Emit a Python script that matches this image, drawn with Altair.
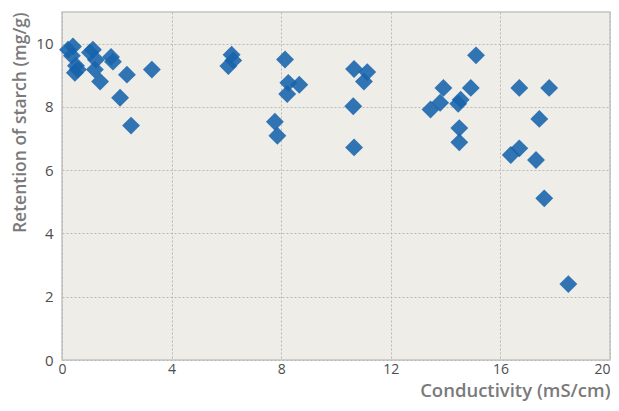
import altair as alt
import pandas as pd

conductivity = [
    0.22, 0.40, 0.36, 0.51, 0.47, 0.58, 1.02, 1.13, 1.24, 1.20, 1.39, 1.79, 1.86, 2.12, 2.37, 2.52, 3.28,
    6.19, 6.07, 6.25, 8.14, 8.26, 8.66, 8.22, 7.77, 7.86, 10.66, 11.14, 11.02, 10.63, 10.66,
    15.11, 13.92, 14.92, 13.80, 13.45, 14.55, 14.46, 14.50, 14.50, 16.69, 17.78, 17.42, 16.69, 16.38, 17.30, 17.60, 18.48,
]
starch = [
    9.81, 9.91, 9.62, 9.30, 9.08, 9.18, 9.72, 9.81, 9.49, 9.18, 8.80, 9.58, 9.43, 8.29, 9.02, 7.41, 9.18,
    9.65, 9.29, 9.47, 9.50, 8.76, 8.70, 8.41, 7.53, 7.09, 9.20, 9.10, 8.80, 8.02, 6.72,
    9.63, 8.60, 8.60, 8.13, 7.92, 8.23, 8.10, 7.33, 6.88, 8.60, 8.60, 7.62, 6.69, 6.48, 6.32, 5.11, 2.40,
]

x_ticks = [0, 4, 8, 12, 16, 20]
y_ticks = [0, 2, 4, 6, 8, 10]

df = pd.DataFrame({"conductivity": conductivity, "starch": starch})

title_font = "Open Sans"
title_color = "#7a7a7a"
label_color = "#4d4d4d"

chart = (
    alt.Chart(df)
    .mark_point(shape="diamond", filled=True, size=320, color="#1763ab", opacity=0.88)
    .encode(
        x=alt.X(
            "conductivity:Q",
            scale=alt.Scale(domain=[0, 20], nice=False, zero=True),
            axis=alt.Axis(
                values=x_ticks,
                title="Conductivity (mS/cm)",
                titleX=548,
                titleY=36,
                titleAlign="right",
                titleBaseline="alphabetic",
                titleFontSize=18.5,
                labelPadding=2,
                labelFontSize=14,
                labelFlush=False,
                labelAlign={"expr": "datum.value == 20 ? 'right' : 'center'"},
            ),
        ),
        y=alt.Y(
            "starch:Q",
            scale=alt.Scale(domain=[0, 11], nice=False, zero=True),
            axis=alt.Axis(
                values=y_ticks,
                title="Retention of starch (mg/g)",
                titleX=-42,
                titleY=0,
                titleAngle=270,
                titleAlign="right",
                titleBaseline="middle",
                titleFontSize=17.5,
                labelPadding=9,
            ),
        ),
    )
    .properties(
        width=548,
        height=348,
        autosize=alt.AutoSizeParams(type="none"),
        padding={"left": 54, "top": 4, "right": 1, "bottom": 43},
        background="white",
    )
    .configure_view(fill="#efede8", stroke="#c4c4c4", strokeWidth=1.5)
    .configure_axis(
        domain=False,
        ticks=False,
        grid=True,
        gridColor="#b9b9b9",
        gridDash=[2, 2],
        gridWidth=1,
        labelFont=title_font,
        labelFontSize=15,
        labelColor=label_color,
        titleFont=title_font,
        titleFontWeight=600,
        titleColor=title_color,
    )
)

chart.save("out.html", embed_options={"renderer": "svg", "actions": False})
